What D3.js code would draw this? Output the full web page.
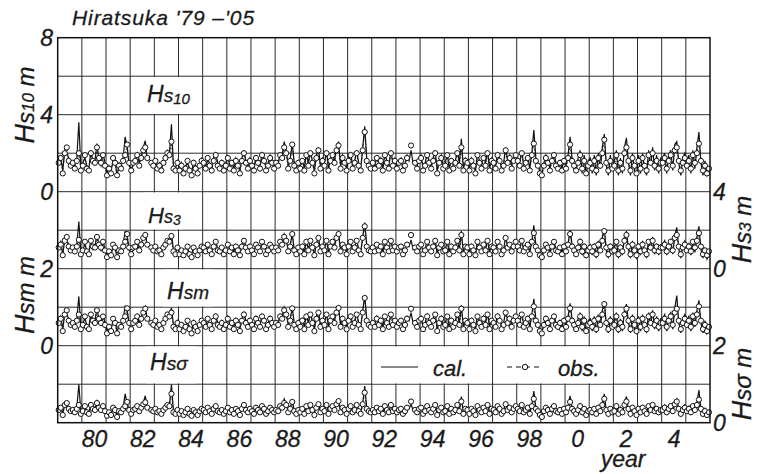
<!DOCTYPE html>
<html><head><meta charset="utf-8">
<script src="https://cdn.jsdelivr.net/npm/d3@7"></script>
<style>
body{margin:0;background:#fff}
text{font-family:"Liberation Sans",Arial,sans-serif;font-style:italic;fill:#1a1a1a;stroke:#1a1a1a;stroke-width:0.3px}
</style>
</head><body>
<svg id="c" width="764" height="474"></svg>
<script>
// ---------- data (monthly, Jan 1979 - Dec 2005) ----------
const startYear = 1979, endYear = 2006;
const xTickYears = [1980,1982,1984,1986,1988,1990,1992,1994,1996,1998,2000,2002,2004];

const hs10Obs = [
1.5,1.75,0.95,2.0,2.3,1.6,1.35,1.5,1.2,1.6,2.0,1.1,
1.35,1.9,1.2,1.1,2.0,1.6,1.5,2.3,1.75,1.5,1.9,1.35,
0.85,1.2,0.95,1.75,1.5,0.85,1.35,1.2,1.6,1.9,2.45,1.5,
1.1,1.5,1.6,1.9,1.35,1.75,2.15,2.3,1.75,null,1.5,1.35,
1.6,1.2,1.35,1.1,1.5,1.75,2.0,1.9,2.6,1.2,1.1,1.5,
1.1,1.35,0.95,1.2,1.6,1.1,0.85,1.5,1.2,0.95,1.35,1.6,
1.5,1.2,1.75,1.35,1.1,1.6,1.9,1.35,1.2,1.5,1.1,1.35,
1.75,1.2,1.5,1.1,1.6,1.35,0.95,1.6,2.0,1.5,1.2,1.6,
1.35,1.1,1.75,1.5,1.2,1.9,1.6,1.1,1.35,1.75,1.5,1.2,
1.5,1.35,1.9,1.75,2.3,2.0,1.2,1.6,2.45,1.35,1.1,1.5,
1.2,1.6,1.1,1.9,1.35,2.0,1.5,0.95,1.75,2.15,1.2,1.6,
1.35,2.0,1.1,1.6,1.9,1.5,2.15,2.4,1.2,1.75,1.5,1.1,
1.6,1.9,1.2,1.5,2.0,1.35,1.1,2.15,3.1,1.6,1.35,1.2,
1.5,1.2,1.75,1.35,1.6,1.1,1.9,1.5,1.2,2.0,1.35,1.6,
1.2,1.5,1.6,1.1,1.35,1.75,null,2.4,null,1.5,1.2,1.6,
1.75,1.1,1.35,1.9,1.5,1.2,1.6,2.0,0.95,1.5,1.75,1.2,
1.35,1.9,1.1,1.6,1.2,1.5,2.0,1.35,2.3,1.1,1.6,1.5,
1.1,1.6,1.35,0.95,1.9,1.5,1.2,1.75,1.35,2.0,1.1,1.6,
1.5,1.2,1.9,1.6,1.1,1.35,2.15,1.5,1.75,1.2,1.6,1.9,
1.6,1.35,2.0,1.2,1.5,1.75,1.1,1.9,2.5,1.6,1.35,0.95,
0.85,1.35,1.75,1.5,1.1,1.6,1.9,1.35,1.2,1.5,1.1,1.6,
1.2,1.75,2.45,1.6,1.35,1.1,1.5,1.9,1.2,1.6,0.95,1.35,
1.5,1.2,1.6,1.1,1.75,1.35,2.0,2.7,1.5,1.1,1.6,1.2,
1.35,1.9,1.1,1.5,1.2,2.0,2.3,1.6,1.1,1.75,1.35,0.95,
1.6,1.2,1.75,1.35,1.1,1.9,1.5,2.0,1.35,1.6,1.2,1.5,
1.5,1.75,1.2,1.6,1.9,1.35,2.15,2.3,1.6,1.1,1.5,1.75,
1.35,1.6,1.2,1.9,1.5,2.0,2.5,1.6,1.1,1.35,0.95,1.2];

const hs10Cal = [
1.6,1.9,1.1,2.15,2.0,1.75,1.5,1.35,1.35,1.75,3.6,1.2,
1.5,1.75,1.35,1.2,2.15,1.5,1.6,2.5,1.6,1.35,2.0,1.5,
0.95,1.35,1.1,1.6,1.6,0.8,1.5,1.35,1.75,2.85,2.3,1.35,
1.2,1.35,1.75,2.0,1.5,1.9,2.3,2.65,1.6,null,1.6,1.5,
1.5,1.35,1.5,1.2,1.6,1.9,2.15,2.0,3.5,1.35,1.2,1.6,
1.2,1.5,1.1,1.35,1.5,1.2,0.95,1.6,1.35,1.1,1.5,1.75,
1.6,1.35,1.6,1.5,1.2,1.75,2.0,1.5,1.35,1.6,1.2,1.5,
1.9,1.35,1.6,1.2,1.75,1.5,1.1,1.75,2.15,1.6,1.35,1.75,
1.5,1.2,1.9,1.6,1.35,2.0,1.75,1.2,1.5,1.9,1.6,1.35,
1.6,1.5,2.0,1.9,2.6,2.15,1.35,1.75,2.5,1.5,1.2,1.6,
1.35,1.75,1.2,2.0,1.5,2.15,1.6,1.1,1.9,2.3,1.35,1.75,
1.5,2.15,1.2,1.75,2.0,1.6,2.3,2.6,1.35,1.9,1.6,1.2,
1.75,2.0,1.35,1.6,2.15,1.5,1.2,2.3,3.4,1.75,1.5,1.35,
1.6,1.35,1.9,1.5,1.75,1.2,2.0,1.6,1.35,2.15,1.5,1.75,
1.35,1.6,1.75,1.2,1.5,1.9,1.6,2.15,1.5,1.6,1.35,1.75,
1.9,1.2,1.5,2.0,1.6,1.35,1.75,2.15,1.1,1.6,1.9,1.35,
1.5,2.0,1.2,1.75,1.35,1.6,2.15,1.5,2.75,1.2,1.75,1.6,
1.2,1.75,1.5,1.1,2.0,1.6,1.35,1.9,1.5,2.15,1.2,1.75,
1.6,1.35,2.0,1.75,1.2,1.5,2.3,1.6,1.9,1.35,1.75,2.0,
1.75,1.5,2.15,1.35,1.6,1.9,1.2,2.0,3.2,1.75,1.5,1.1,
0.85,1.5,1.9,1.6,1.2,1.75,2.0,1.5,1.35,1.6,1.2,1.75,
1.35,1.9,2.85,1.75,1.1,1.2,1.75,2.15,0.95,1.9,0.85,1.6,
1.75,0.95,1.9,0.85,2.0,1.2,2.3,3.0,1.35,0.85,1.9,1.1,
1.6,2.15,0.85,1.75,0.95,2.3,2.8,1.5,0.85,2.0,1.1,0.85,
1.9,0.95,2.0,1.2,0.85,2.15,1.35,2.3,1.1,1.9,0.95,1.75,
1.75,2.0,0.95,1.9,2.15,1.1,2.45,2.6,1.5,0.85,1.75,2.0,
1.6,1.9,0.95,2.15,1.2,2.3,3.1,1.5,0.85,1.6,0.85,1.1];

const hs3Obs = [
1.1,1.25,0.7,1.45,1.65,1.15,0.95,1.1,0.9,1.15,1.5,0.75,
0.95,1.4,0.9,0.75,1.45,1.15,1.1,1.65,1.25,1.1,1.4,0.95,
0.6,0.9,0.7,1.25,1.1,0.6,0.95,0.9,1.15,1.4,1.8,1.1,
0.75,1.1,1.15,1.4,0.95,1.25,1.6,1.75,1.25,null,1.1,0.95,
1.15,0.9,0.95,0.75,1.1,1.25,1.45,1.4,1.7,0.9,0.75,1.1,
0.75,0.95,0.7,0.9,1.15,0.75,0.6,1.1,0.9,0.7,0.95,1.15,
1.1,0.9,1.25,0.95,0.75,1.15,1.4,0.95,0.9,1.1,0.75,0.95,
1.25,0.9,1.1,0.75,1.15,0.95,0.7,1.15,1.45,1.1,0.9,1.15,
0.95,0.75,1.25,1.1,0.9,1.4,1.15,0.75,0.95,1.25,1.1,0.9,
1.1,0.95,1.4,1.25,1.65,1.45,0.9,1.15,1.8,0.95,0.75,1.1,
0.9,1.15,0.75,1.4,0.95,1.45,1.1,0.7,1.25,1.6,0.9,1.15,
0.95,1.45,0.75,1.15,1.4,1.1,1.6,1.8,0.9,1.25,1.1,0.75,
1.15,1.4,0.9,1.1,1.45,0.95,0.75,1.6,2.2,1.15,0.95,0.9,
1.1,0.9,1.25,0.95,1.15,0.75,1.4,1.1,0.9,1.45,0.95,1.15,
0.9,1.1,1.15,0.75,0.95,1.25,null,1.75,null,1.1,0.9,1.15,
1.25,0.75,0.95,1.4,1.1,0.9,1.15,1.45,0.7,1.1,1.25,0.9,
0.95,1.4,0.75,1.15,0.9,1.1,1.45,0.95,1.75,0.75,1.15,1.1,
0.75,1.15,0.95,0.7,1.4,1.1,0.9,1.25,0.95,1.45,0.75,1.15,
1.1,0.9,1.4,1.15,0.75,0.95,1.6,1.1,1.25,0.9,1.15,1.4,
1.15,0.95,1.45,0.9,1.1,1.25,0.75,1.4,1.85,1.15,0.95,0.7,
0.6,0.95,1.25,1.1,0.75,1.15,1.4,0.95,0.9,1.1,0.75,1.15,
0.9,1.25,1.8,1.15,0.95,0.75,1.1,1.4,0.9,1.15,0.7,0.95,
1.1,0.9,1.15,0.75,1.25,0.95,1.45,1.95,1.1,0.75,1.15,0.9,
0.95,1.4,0.75,1.1,0.9,1.45,1.75,1.15,0.75,1.25,0.95,0.7,
1.15,0.9,1.25,0.95,0.75,1.4,1.1,1.45,0.95,1.15,0.9,1.1,
1.1,1.25,0.9,1.15,1.4,0.95,1.6,1.75,1.15,0.75,1.1,1.25,
0.95,1.15,0.9,1.4,1.1,1.45,1.85,1.15,0.75,0.95,0.7,0.9];

const hs3Cal = [
1.15,1.4,0.75,1.5,1.45,1.25,1.0,0.95,0.95,1.25,2.45,0.85,
1.0,1.25,0.95,0.85,1.5,1.0,1.15,1.8,1.15,0.95,1.45,1.0,
0.7,0.95,0.75,1.15,1.15,0.55,1.0,0.95,1.25,1.95,1.65,0.95,
0.85,0.95,1.25,1.45,1.0,1.3,1.65,1.85,1.15,null,1.15,1.0,
1.0,0.95,1.0,0.85,1.15,1.3,1.5,1.45,1.85,0.95,0.85,1.15,
0.85,1.0,0.75,0.95,1.0,0.85,0.7,1.15,0.95,0.75,1.0,1.25,
1.15,0.95,1.15,1.0,0.85,1.25,1.45,1.0,0.95,1.15,0.85,1.0,
1.3,0.95,1.15,0.85,1.25,1.0,0.75,1.25,1.5,1.15,0.95,1.25,
1.0,0.85,1.3,1.15,0.95,1.45,1.25,0.85,1.0,1.3,1.15,0.95,
1.15,1.0,1.45,1.3,1.8,1.5,0.95,1.25,1.8,1.0,0.85,1.15,
0.95,1.25,0.85,1.45,1.0,1.5,1.15,0.75,1.3,1.65,0.95,1.25,
1.0,1.5,0.85,1.25,1.45,1.15,1.65,1.85,0.95,1.3,1.15,0.85,
1.25,1.45,0.95,1.15,1.5,1.0,0.85,1.65,2.4,1.25,1.0,0.95,
1.15,0.95,1.3,1.0,1.25,0.85,1.45,1.15,0.95,1.5,1.0,1.25,
0.95,1.15,1.25,0.85,1.0,1.3,1.15,1.5,1.0,1.15,0.95,1.25,
1.3,0.85,1.0,1.45,1.15,0.95,1.25,1.5,0.75,1.15,1.3,0.95,
1.0,1.45,0.85,1.25,0.95,1.15,1.5,1.0,1.95,0.85,1.25,1.15,
0.85,1.25,1.0,0.75,1.45,1.15,0.95,1.3,1.0,1.5,0.85,1.25,
1.15,0.95,1.45,1.25,0.85,1.0,1.65,1.15,1.3,0.95,1.25,1.45,
1.25,1.0,1.5,0.95,1.15,1.3,0.85,1.45,2.25,1.25,1.0,0.75,
0.55,1.0,1.3,1.15,0.85,1.25,1.45,1.0,0.95,1.15,0.85,1.25,
0.95,1.3,2.0,1.25,0.75,0.85,1.25,1.5,0.7,1.3,0.55,1.1,
1.25,0.7,1.3,0.55,1.45,0.85,1.65,2.1,0.95,0.55,1.3,0.75,
1.1,1.5,0.55,1.25,0.7,1.65,1.95,1.0,0.55,1.45,0.75,0.55,
1.3,0.7,1.45,0.85,0.55,1.5,0.95,1.65,0.75,1.3,0.7,1.25,
1.25,1.45,0.7,1.3,1.5,0.75,1.7,2.15,1.0,0.55,1.25,1.45,
1.1,1.3,0.7,1.5,0.85,1.65,2.2,1.0,0.55,1.1,0.5,0.75];

const hsmObs = [
0.59,0.70,0.38,0.81,0.92,0.65,0.54,0.59,0.49,0.65,0.81,0.43,
0.54,0.76,0.49,0.43,0.81,0.65,0.59,0.92,0.70,0.59,0.76,0.54,
0.32,0.49,0.38,0.70,0.59,0.32,0.54,0.49,0.65,0.76,0.97,0.59,
0.43,0.59,0.65,0.76,0.54,0.70,0.86,0.96,0.70,null,0.59,0.54,
0.65,0.49,0.54,0.43,0.59,0.70,0.81,0.76,0.86,0.49,0.43,0.59,
0.43,0.54,0.38,0.49,0.65,0.43,0.32,0.59,0.49,0.38,0.54,0.65,
0.59,0.49,0.70,0.54,0.43,0.65,0.76,0.54,0.49,0.59,0.43,0.54,
0.70,0.49,0.59,0.43,0.65,0.54,0.38,0.65,0.81,0.59,0.49,0.65,
0.54,0.43,0.70,0.59,0.49,0.76,0.65,0.43,0.54,0.70,0.59,0.49,
0.59,0.54,0.76,0.70,0.92,0.81,0.49,0.65,0.97,0.54,0.43,0.59,
0.49,0.65,0.43,0.76,0.54,0.81,0.59,0.38,0.70,0.86,0.49,0.65,
0.54,0.81,0.43,0.65,0.76,0.59,0.86,0.98,0.49,0.70,0.59,0.43,
0.65,0.76,0.49,0.59,0.81,0.54,0.43,0.86,1.24,0.65,0.54,0.49,
0.59,0.49,0.70,0.54,0.65,0.43,0.76,0.59,0.49,0.81,0.54,0.65,
0.49,0.59,0.65,0.43,0.54,0.70,null,0.96,null,0.59,0.49,0.65,
0.70,0.43,0.54,0.76,0.59,0.49,0.65,0.81,0.38,0.59,0.70,0.49,
0.54,0.76,0.43,0.65,0.49,0.59,0.81,0.54,0.96,0.43,0.65,0.59,
0.43,0.65,0.54,0.38,0.76,0.59,0.49,0.70,0.54,0.81,0.43,0.65,
0.59,0.49,0.76,0.65,0.43,0.54,0.86,0.59,0.70,0.49,0.65,0.76,
0.65,0.54,0.81,0.49,0.59,0.70,0.43,0.76,1.02,0.65,0.54,0.38,
0.32,0.54,0.70,0.59,0.43,0.65,0.76,0.54,0.49,0.59,0.43,0.65,
0.49,0.70,0.97,0.65,0.54,0.43,0.59,0.76,0.49,0.65,0.38,0.54,
0.59,0.49,0.65,0.43,0.70,0.54,0.81,1.08,0.59,0.43,0.65,0.49,
0.54,0.76,0.43,0.59,0.49,0.81,0.96,0.65,0.43,0.70,0.54,0.38,
0.65,0.49,0.70,0.54,0.43,0.76,0.59,0.81,0.54,0.65,0.49,0.59,
0.59,0.70,0.49,0.65,0.76,0.54,0.86,0.96,0.65,0.43,0.59,0.70,
0.54,0.65,0.49,0.76,0.59,0.81,1.02,0.65,0.43,0.54,0.38,0.49];

const hsmCal = [
0.65,0.76,0.43,0.86,0.81,0.70,0.59,0.54,0.54,0.70,1.28,0.49,
0.59,0.70,0.54,0.49,0.86,0.59,0.65,0.98,0.65,0.54,0.81,0.59,
0.38,0.54,0.43,0.65,0.65,0.33,0.59,0.54,0.70,1.02,0.92,0.54,
0.49,0.54,0.70,0.81,0.59,0.76,0.92,1.02,0.65,null,0.65,0.59,
0.59,0.54,0.59,0.49,0.65,0.76,0.86,0.81,0.98,0.54,0.49,0.65,
0.49,0.59,0.43,0.54,0.59,0.49,0.38,0.65,0.54,0.43,0.59,0.70,
0.65,0.54,0.65,0.59,0.49,0.70,0.81,0.59,0.54,0.65,0.49,0.59,
0.76,0.54,0.65,0.49,0.70,0.59,0.43,0.70,0.86,0.65,0.54,0.70,
0.59,0.49,0.76,0.65,0.54,0.81,0.70,0.49,0.59,0.76,0.65,0.54,
0.65,0.59,0.81,0.76,1.00,0.86,0.54,0.70,0.98,0.59,0.49,0.65,
0.54,0.70,0.49,0.81,0.59,0.86,0.65,0.43,0.76,0.92,0.54,0.70,
0.59,0.86,0.49,0.70,0.81,0.65,0.92,1.00,0.54,0.76,0.65,0.49,
0.70,0.81,0.54,0.65,0.86,0.59,0.49,0.92,1.30,0.70,0.59,0.54,
0.65,0.54,0.76,0.59,0.70,0.49,0.81,0.65,0.54,0.86,0.59,0.70,
0.54,0.65,0.70,0.49,0.59,0.76,0.65,0.86,0.59,0.65,0.54,0.70,
0.76,0.49,0.59,0.81,0.65,0.54,0.70,0.86,0.43,0.65,0.76,0.54,
0.59,0.81,0.49,0.70,0.54,0.65,0.86,0.59,1.05,0.49,0.70,0.65,
0.49,0.70,0.59,0.43,0.81,0.65,0.54,0.76,0.59,0.86,0.49,0.70,
0.65,0.54,0.81,0.70,0.49,0.59,0.92,0.65,0.76,0.54,0.70,0.81,
0.70,0.59,0.86,0.54,0.65,0.76,0.49,0.81,1.22,0.70,0.59,0.43,
0.33,0.59,0.76,0.65,0.49,0.70,0.81,0.59,0.54,0.65,0.49,0.70,
0.54,0.76,1.10,0.70,0.43,0.49,0.70,0.86,0.38,0.76,0.33,0.65,
0.70,0.38,0.76,0.33,0.81,0.49,0.92,1.15,0.54,0.33,0.76,0.43,
0.65,0.86,0.33,0.70,0.38,0.92,1.08,0.59,0.33,0.81,0.43,0.33,
0.76,0.38,0.81,0.49,0.33,0.86,0.54,0.92,0.43,0.76,0.38,0.70,
0.70,0.81,0.38,0.76,0.86,0.43,0.97,1.30,0.59,0.33,0.70,0.81,
0.65,0.76,0.38,0.86,0.49,0.92,1.18,0.59,0.33,0.65,0.32,0.43];

const hssObs = [
0.33,0.39,0.20,0.46,0.51,0.36,0.30,0.33,0.27,0.36,0.46,0.23,
0.30,0.43,0.27,0.23,0.46,0.36,0.33,0.51,0.39,0.33,0.43,0.30,
0.18,0.27,0.20,0.39,0.33,0.15,0.30,0.27,0.36,0.43,0.54,0.33,
0.23,0.33,0.36,0.43,0.30,0.39,0.48,0.53,0.39,null,0.33,0.30,
0.36,0.27,0.30,0.23,0.33,0.39,0.46,0.43,0.75,0.27,0.23,0.33,
0.23,0.30,0.20,0.27,0.36,0.23,0.18,0.33,0.27,0.20,0.30,0.36,
0.33,0.27,0.39,0.30,0.23,0.36,0.43,0.30,0.27,0.33,0.23,0.30,
0.39,0.27,0.33,0.23,0.36,0.30,0.20,0.36,0.46,0.33,0.27,0.36,
0.30,0.23,0.39,0.33,0.27,0.43,0.36,0.23,0.30,0.39,0.33,0.27,
0.33,0.30,0.43,0.39,0.51,0.46,0.27,0.36,0.54,0.30,0.23,0.33,
0.27,0.36,0.23,0.43,0.30,0.46,0.33,0.20,0.39,0.48,0.27,0.36,
0.30,0.46,0.23,0.36,0.43,0.33,0.48,0.56,0.27,0.39,0.33,0.23,
0.36,0.43,0.27,0.33,0.46,0.30,0.23,0.48,0.78,0.36,0.30,0.27,
0.33,0.27,0.39,0.30,0.36,0.23,0.43,0.33,0.27,0.46,0.30,0.36,
0.27,0.33,0.36,0.23,0.30,0.39,null,0.55,null,0.33,0.27,0.36,
0.39,0.23,0.30,0.43,0.33,0.27,0.36,0.46,0.20,0.33,0.39,0.27,
0.30,0.43,0.23,0.36,0.27,0.33,0.46,0.30,0.55,0.23,0.36,0.33,
0.23,0.36,0.30,0.20,0.43,0.33,0.27,0.39,0.30,0.46,0.23,0.36,
0.33,0.27,0.43,0.36,0.23,0.30,0.48,0.33,0.39,0.27,0.36,0.43,
0.36,0.30,0.46,0.27,0.33,0.39,0.23,0.43,0.62,0.36,0.30,0.20,
0.15,0.30,0.39,0.33,0.23,0.36,0.43,0.30,0.27,0.33,0.23,0.36,
0.27,0.39,0.54,0.36,0.30,0.23,0.33,0.43,0.27,0.36,0.20,0.30,
0.33,0.27,0.36,0.23,0.39,0.30,0.46,0.62,0.33,0.23,0.36,0.27,
0.30,0.43,0.23,0.33,0.27,0.46,0.55,0.36,0.23,0.39,0.30,0.20,
0.36,0.27,0.39,0.30,0.23,0.43,0.33,0.46,0.30,0.36,0.27,0.33,
0.33,0.39,0.27,0.36,0.43,0.30,0.48,0.55,0.36,0.23,0.33,0.39,
0.30,0.36,0.27,0.43,0.33,0.46,0.60,0.36,0.23,0.30,0.20,0.27];

const hssCal = [
0.36,0.43,0.23,0.48,0.46,0.39,0.33,0.30,0.30,0.39,1.00,0.27,
0.33,0.39,0.30,0.27,0.48,0.33,0.36,0.56,0.36,0.30,0.46,0.33,
0.20,0.30,0.23,0.36,0.36,0.18,0.33,0.30,0.39,0.75,0.51,0.30,
0.27,0.30,0.39,0.46,0.33,0.43,0.51,0.70,0.36,null,0.36,0.33,
0.33,0.30,0.33,0.27,0.36,0.43,0.48,0.46,1.00,0.30,0.27,0.36,
0.27,0.33,0.23,0.30,0.33,0.27,0.20,0.36,0.30,0.23,0.33,0.39,
0.36,0.30,0.36,0.33,0.27,0.39,0.46,0.33,0.30,0.36,0.27,0.33,
0.43,0.30,0.36,0.27,0.39,0.33,0.23,0.39,0.48,0.36,0.30,0.39,
0.33,0.27,0.43,0.36,0.30,0.46,0.39,0.27,0.33,0.43,0.36,0.30,
0.36,0.33,0.46,0.43,0.62,0.48,0.30,0.39,0.56,0.33,0.27,0.36,
0.30,0.39,0.27,0.46,0.33,0.48,0.36,0.23,0.43,0.51,0.30,0.39,
0.33,0.48,0.27,0.39,0.46,0.36,0.51,0.60,0.30,0.43,0.36,0.27,
0.39,0.46,0.30,0.36,0.48,0.33,0.27,0.51,0.95,0.39,0.33,0.30,
0.36,0.30,0.43,0.33,0.39,0.27,0.46,0.36,0.30,0.48,0.33,0.39,
0.30,0.36,0.39,0.27,0.33,0.43,0.36,0.48,0.33,0.36,0.30,0.39,
0.43,0.27,0.33,0.46,0.36,0.30,0.39,0.48,0.23,0.36,0.43,0.30,
0.33,0.46,0.27,0.39,0.30,0.36,0.48,0.33,0.68,0.27,0.39,0.36,
0.27,0.39,0.33,0.23,0.46,0.36,0.30,0.43,0.33,0.48,0.27,0.39,
0.36,0.30,0.46,0.39,0.27,0.33,0.51,0.36,0.43,0.30,0.39,0.46,
0.39,0.33,0.48,0.30,0.36,0.43,0.27,0.46,0.82,0.39,0.33,0.23,
0.18,0.33,0.43,0.36,0.27,0.39,0.46,0.33,0.30,0.36,0.27,0.39,
0.30,0.43,0.70,0.39,0.23,0.27,0.39,0.48,0.20,0.43,0.18,0.36,
0.39,0.20,0.43,0.18,0.46,0.27,0.51,0.75,0.30,0.18,0.43,0.23,
0.36,0.48,0.18,0.39,0.20,0.51,0.68,0.33,0.18,0.46,0.23,0.18,
0.43,0.20,0.46,0.27,0.18,0.48,0.30,0.51,0.23,0.43,0.20,0.39,
0.39,0.46,0.20,0.43,0.48,0.23,0.54,0.62,0.33,0.18,0.39,0.46,
0.36,0.43,0.20,0.48,0.27,0.51,0.85,0.33,0.18,0.36,0.15,0.23];

// ---------- layout ----------
const svg = d3.select("#c");
const L = 57.7, R = 710, T = 37.7, B = 422.7;
const x = d3.scaleLinear().domain([startYear, endYear]).range([L, R]);
const row = d3.scaleLinear().domain([0, 10]).range([T, B]);   // 10 grid rows

const yHs10 = d3.scaleLinear().domain([0, 8]).range([row(4), row(0)]);
const yHs3  = d3.scaleLinear().domain([0, 4]).range([row(6), row(4)]);
const yHsm  = d3.scaleLinear().domain([0, 2]).range([row(8), row(6)]);
const yHss  = d3.scaleLinear().domain([0, 2]).range([row(10), row(8)]);

const tOf = i => startYear + (i + 0.5) / 12;

// grid
const g = svg.append("g");
g.selectAll("line.v").data(d3.range(startYear + 1, endYear)).join("line")
  .attr("x1", d => x(d)).attr("x2", d => x(d)).attr("y1", T).attr("y2", B)
  .attr("stroke", "#2a2a2a").attr("stroke-width", 1);
g.selectAll("line.h").data(d3.range(1, 10)).join("line")
  .attr("x1", L).attr("x2", R).attr("y1", d => row(d)).attr("y2", d => row(d))
  .attr("stroke", "#2a2a2a").attr("stroke-width", 1);

// panel label boxes (white cells hiding grid behind the labels)
const labelBoxes = [[143, 52, 1], [144, 38, 4], [163, 50, 6], [146, 50, 8]];
labelBoxes.forEach(([bx, bw, r]) => svg.append("rect").attr("x", bx).attr("y", row(r) + 0.8)
  .attr("width", bw).attr("height", row(r + 1) - row(r) - 1.6).attr("fill", "#fff"));
// legend cells
[[1992, 1997], [1997, 2002]].forEach(([a, b]) => {
  svg.append("rect").attr("x", x(a) + 0.8).attr("y", row(8) + 0.8)
    .attr("width", x(b) - x(a) - 1.6).attr("height", row(9) - row(8) - 1.6).attr("fill", "#fff");
});

// series
const panels = [
  {obs: hs10Obs, cal: hs10Cal, y: yHs10},
  {obs: hs3Obs,  cal: hs3Cal,  y: yHs3},
  {obs: hsmObs,  cal: hsmCal,  y: yHsm},
  {obs: hssObs,  cal: hssCal,  y: yHss}
];
panels.forEach(p => {
  const ln = d3.line().defined(d => d != null).x((d, i) => x(tOf(i))).y(d => p.y(d));
  svg.append("path").attr("d", ln(p.obs)).attr("fill", "none")
    .attr("stroke", "#111").attr("stroke-width", 0.8).attr("stroke-dasharray", "2,1.5");
  svg.append("path").attr("d", ln(p.cal)).attr("fill", "none")
    .attr("stroke", "#111").attr("stroke-width", 1.2);
  svg.append("g").selectAll("circle")
    .data(p.obs.map((v, i) => ({v, i})).filter(d => d.v != null)).join("circle")
    .attr("cx", d => x(tOf(d.i))).attr("cy", d => p.y(d.v)).attr("r", 2.6)
    .attr("fill", "#fff").attr("stroke", "#111").attr("stroke-width", 1);
});

// frame
svg.append("rect").attr("x", L).attr("y", T).attr("width", R - L).attr("height", B - T)
  .attr("fill", "none").attr("stroke", "#111").attr("stroke-width", 1.5);

// panel labels
function panelLabel(px, py, parts) {
  const t = svg.append("text").attr("x", px).attr("y", py);
  parts.forEach(([txt, size, dy]) => t.append("tspan").attr("font-size", size).attr("dy", dy || 0).text(txt));
}
panelLabel(147, 102, [["H", 23], ["s", 19], ["10", 15, 1.5]]);
panelLabel(148, 223, [["H", 22], ["s", 18], ["3", 14, 1.5]]);
panelLabel(167, 299, [["H", 23], ["sm", 19]]);
panelLabel(150, 370, [["H", 23], ["sσ", 19]]);

// legend
svg.append("line").attr("x1", 381).attr("x2", 418).attr("y1", 367).attr("y2", 367)
  .attr("stroke", "#111").attr("stroke-width", 1.2);
svg.append("text").attr("x", 433).attr("y", 376).attr("font-size", 22).text("cal.");
svg.append("line").attr("x1", 507).attr("x2", 543).attr("y1", 367).attr("y2", 367)
  .attr("stroke", "#111").attr("stroke-width", 1).attr("stroke-dasharray", "5,4");
svg.append("circle").attr("cx", 525).attr("cy", 367).attr("r", 2.7)
  .attr("fill", "#fff").attr("stroke", "#111").attr("stroke-width", 1);
svg.append("text").attr("x", 558).attr("y", 376).attr("font-size", 22).text("obs.");

// x axis labels
const xAxis = d3.axisBottom(x).tickValues(xTickYears.map(d => d + 0.5))
  .tickSize(0).tickFormat(d => String(Math.floor(d) % 100));
const xa = svg.append("g").attr("transform", `translate(0,${B})`).call(xAxis);
xa.select(".domain").remove();
xa.selectAll("text").attr("font-size", 23).attr("font-family", null)
  .attr("y", 24.5).attr("dy", 0).attr("fill", null);
svg.append("text").attr("x", 623).attr("y", 467).attr("text-anchor", "middle")
  .attr("font-size", 23).text("year");

// y tick labels
const leftTicks = [[yHs10, 8], [yHs10, 4], [yHs10, 0], [yHsm, 2], [yHsm, 0]];
leftTicks.forEach(([s, v]) => svg.append("text").attr("x", 53).attr("y", s(v) + 8.2)
  .attr("text-anchor", "end").attr("font-size", 23).text(v));
const rightTicks = [[yHs3, 4], [yHs3, 0], [yHss, 2], [yHss, 0]];
rightTicks.forEach(([s, v]) => svg.append("text").attr("x", 713).attr("y", s(v) + 8.2)
  .attr("text-anchor", "start").attr("font-size", 23).text(v));

// rotated axis titles
function axisTitle(tx, ty, sub) {
  const t = svg.append("text").attr("transform", `translate(${tx},${ty}) rotate(-90)`)
    .attr("text-anchor", "middle");
  t.append("tspan").attr("font-size", 27).text("H");
  t.append("tspan").attr("font-size", 24).text("s");
  t.append("tspan").attr("font-size", sub.size).text(sub.text);
  t.append("tspan").attr("font-size", 24).text(" m");
}
axisTitle(34, 105, {text: "10", size: 17});
axisTitle(34, 295, {text: "m", size: 24});
axisTitle(751, 229.5, {text: "3", size: 17});
axisTitle(751, 384, {text: "σ", size: 24});

// title
svg.append("text").attr("x", 72).attr("y", 25).attr("font-size", 21)
  .attr("letter-spacing", 0.9).text("Hiratsuka '79 –'05");
</script>
</body></html>
